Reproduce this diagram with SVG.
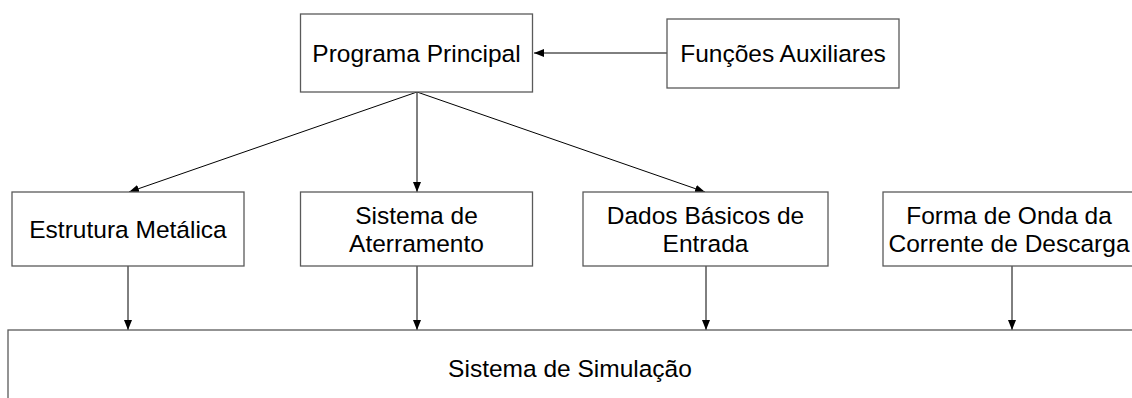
<svg xmlns="http://www.w3.org/2000/svg" width="1132" height="398" viewBox="0 0 1132 398">
<defs>
<style>
.box{fill:#fff;stroke:#5a5a5a;stroke-width:1.3}
.t{font-family:"Liberation Sans",Arial,sans-serif;font-size:24.5px;fill:#000;text-anchor:middle}
.c{stroke:#000;stroke-width:1;fill:none;marker-end:url(#ah)}
</style>
<marker id="ah" viewBox="0 0 10 10" refX="10" refY="5" markerWidth="10" markerHeight="10" markerUnits="userSpaceOnUse" orient="auto">
<path d="M0,1 L10,5 L0,9 Z" fill="#000"/>
</marker>
</defs>
<rect width="1132" height="398" fill="#fff"/>
<g id="connectors">
<line class="c" x1="667" y1="53" x2="534" y2="53"/>
<line class="c" x1="417" y1="92" x2="129" y2="192"/>
<line class="c" x1="417" y1="92" x2="417" y2="192"/>
<line class="c" x1="417" y1="92" x2="705" y2="192"/>
<line class="c" x1="128" y1="266" x2="128" y2="330"/>
<line class="c" x1="417" y1="266" x2="417" y2="330"/>
<line class="c" x1="706" y1="266" x2="706" y2="330"/>
<line class="c" x1="1012" y1="266" x2="1012" y2="330"/>
</g>
<g id="programa">
<rect class="box" x="300.5" y="14" width="232" height="78"/>
<text class="t" x="416.5" y="61.5">Programa Principal</text>
</g>
<g id="funcoes">
<rect class="box" x="667" y="19" width="232" height="69"/>
<text class="t" x="783" y="62">Funções Auxiliares</text>
</g>
<g id="estrutura">
<rect class="box" x="12" y="192" width="232" height="74"/>
<text class="t" x="128" y="237.5">Estrutura Metálica</text>
</g>
<g id="aterramento">
<rect class="box" x="300.5" y="192" width="232" height="74"/>
<text class="t" x="416.5" y="223.5">Sistema de</text>
<text class="t" x="416.5" y="251.5">Aterramento</text>
</g>
<g id="dados">
<rect class="box" x="583" y="192" width="245" height="74"/>
<text class="t" x="705.5" y="223.5">Dados Básicos de</text>
<text class="t" x="705.5" y="251.5">Entrada</text>
</g>
<g id="forma">
<rect class="box" x="883" y="192" width="258" height="74"/>
<text class="t" x="1009" y="223.5">Forma de Onda da</text>
<text class="t" x="1009" y="251.5">Corrente de Descarga</text>
</g>
<g id="simulacao">
<rect class="box" x="8" y="330" width="1140" height="90"/>
<text class="t" x="570" y="376.5">Sistema de Simulação</text>
</g>
</svg>
